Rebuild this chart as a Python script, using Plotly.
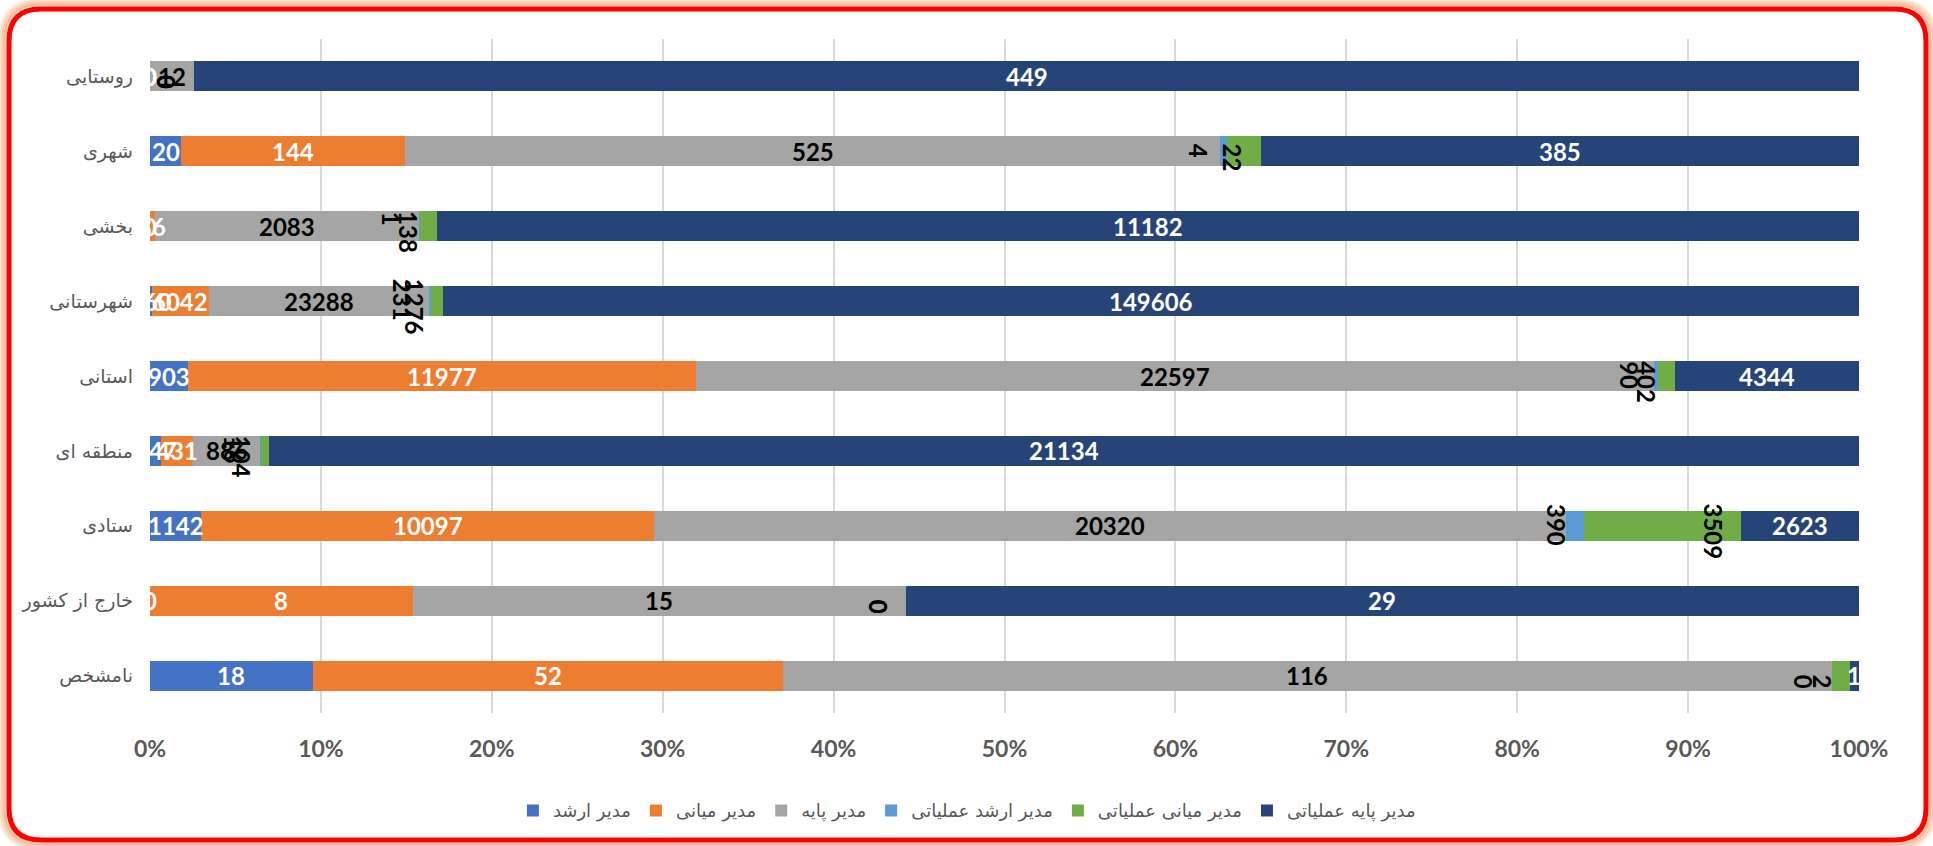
import plotly.graph_objects as go

# Organisational level of each unit (top to bottom)
categories = ["روستایی", "شهری", "بخشی", "شهرستانی", "استانی",
              "منطقه ای", "ستادی", "خارج از کشور", "نامشخص"]

series_names = ["مدیر ارشد", "مدیر میانی", "مدیر پایه",
                "مدیر ارشد عملیاتی", "مدیر میانی عملیاتی", "مدیر پایه عملیاتی"]

# Head counts per manager type, one value per category
senior = [0, 20, 0, 160, 903, 147, 1142, 0, 18]
middle = [0, 144, 36, 6042, 11977, 431, 10097, 8, 52]
base = [12, 525, 2083, 23288, 22597, 886, 20320, 15, 116]
senior_ops = [0, 4, 1, 231, 90, 16, 390, 0, 0]
middle_ops = [0, 22, 138, 1276, 402, 104, 3509, 0, 2]
base_ops = [449, 385, 11182, 149606, 4344, 21134, 2623, 29, 1]

x_ticks = [0, 10, 20, 30, 40, 50, 60, 70, 80, 90, 100]
x_tick_text = ["0%", "10%", "20%", "30%", "40%", "50%", "60%", "70%", "80%", "90%", "100%"]

series = [senior, middle, base, senior_ops, middle_ops, base_ops]
colors = ["#4472C4", "#ED7D31", "#A5A5A5", "#5B9BD5", "#70AD47", "#264478"]
label_colors = ["#FFFFFF", "#FFFFFF", "#000000", "#000000", "#000000", "#FFFFFF"]
label_rotated = [False, False, False, True, True, False]

W, H = 1933, 846
ML, MR, MT, MB = 150, 74, 39, 133
PW, PH = W - ML - MR, H - MT - MB

NUM_FONT = "Lato, 'Open Sans', sans-serif"
FA_FONT = "'DejaVu Sans', 'Noto Sans', sans-serif"

fig = go.Figure()
for name, vals, col in zip(series_names, series, colors):
    fig.add_trace(go.Bar(
        y=categories, x=vals, name=name, orientation="h",
        marker=dict(color=col, line=dict(width=0)),
        hoverinfo="x+y+name",
    ))

# Data labels: raw counts placed on the normalised (percent) scale
totals = [sum(s[j] for s in series) for j in range(len(categories))]
annotations = []
for j, cat in enumerate(categories):
    # vertical labels of a row share a common top edge
    longest = max(len(str(vals[j])) for vals, rot in zip(series, label_rotated) if rot)
    top_shift = 7 * longest - 4
    start = 0.0
    for k, vals in enumerate(series):
        v = vals[j]
        pct = 100.0 * v / totals[j]
        end = start + pct
        font = dict(family=NUM_FONT, size=24, color=label_colors[k], weight=700)
        if label_rotated[k]:
            annotations.append(dict(
                x=end, y=cat, xref="x", yref="y", text=str(v), showarrow=False,
                font=font, textangle=90, xanchor="center", yanchor="top",
                xshift=-28, yshift=top_shift,
            ))
        else:
            annotations.append(dict(
                x=(start + end) / 2, y=cat, xref="x", yref="y", text=str(v),
                showarrow=False, font=font, xanchor="center", yanchor="middle",
            ))
        start = end


def to_paper(px, py):
    return (px - ML) / PW, 1 - (py - MT) / PH


def rounded_rect(x0, y0, x1, y1, r):
    pts = [
        ("M", [(x0 + r, y0)]), ("L", [(x1 - r, y0)]), ("Q", [(x1, y0), (x1, y0 + r)]),
        ("L", [(x1, y1 - r)]), ("Q", [(x1, y1), (x1 - r, y1)]),
        ("L", [(x0 + r, y1)]), ("Q", [(x0, y1), (x0, y1 - r)]),
        ("L", [(x0, y0 + r)]), ("Q", [(x0, y0), (x0 + r, y0)]),
    ]
    parts = []
    for cmd, coords in pts:
        cs = " ".join("%.6f,%.6f" % to_paper(px, py) for px, py in coords)
        parts.append(cmd + " " + cs)
    return " ".join(parts) + " Z"


shapes = []
# soft peach glow around the frame
for off, alpha in [(10, 0.15), (8, 0.3), (6, 0.45), (4, 0.65)]:
    shapes.append(dict(
        type="path", xref="paper", yref="paper", layer="below",
        path=rounded_rect(9 - off, 9 - off, 1926 + off, 840 + off, 32 + off),
        line=dict(color="rgba(240,165,115,%.2f)" % alpha, width=3),
    ))
# red frame
shapes.append(dict(
    type="path", xref="paper", yref="paper", layer="below",
    path=rounded_rect(9, 9, 1926, 840, 32),
    line=dict(color="#FF0000", width=5),
))

fig.update_layout(
    width=W, height=H,
    margin=dict(l=ML, r=MR, t=MT, b=MB),
    barmode="stack", barnorm="percent", bargap=0.6,
    paper_bgcolor="#FFFFFF", plot_bgcolor="#FFFFFF",
    showlegend=True,
    legend=dict(
        orientation="h", x=0.478, xanchor="center", y=-0.145, yanchor="middle",
        font=dict(family=FA_FONT, size=18, color="#595959"),
        traceorder="normal",
    ),
    xaxis=dict(
        range=[0, 100], tickmode="array", tickvals=x_ticks, ticktext=x_tick_text,
        showgrid=True, gridcolor="#D9D9D9", gridwidth=2,
        zeroline=False, showline=False, ticks="",
        ticklabelstandoff=20,
        tickfont=dict(family=NUM_FONT, size=23, color="#595959", weight=700),
        fixedrange=True,
    ),
    yaxis=dict(
        autorange="reversed", showgrid=False, zeroline=False, showline=False,
        ticks="", ticklabelstandoff=16,
        tickfont=dict(family=FA_FONT, size=19, color="#595959"),
        fixedrange=True,
    ),
    annotations=annotations,
    shapes=shapes,
)

fig.write_html("out.html")
